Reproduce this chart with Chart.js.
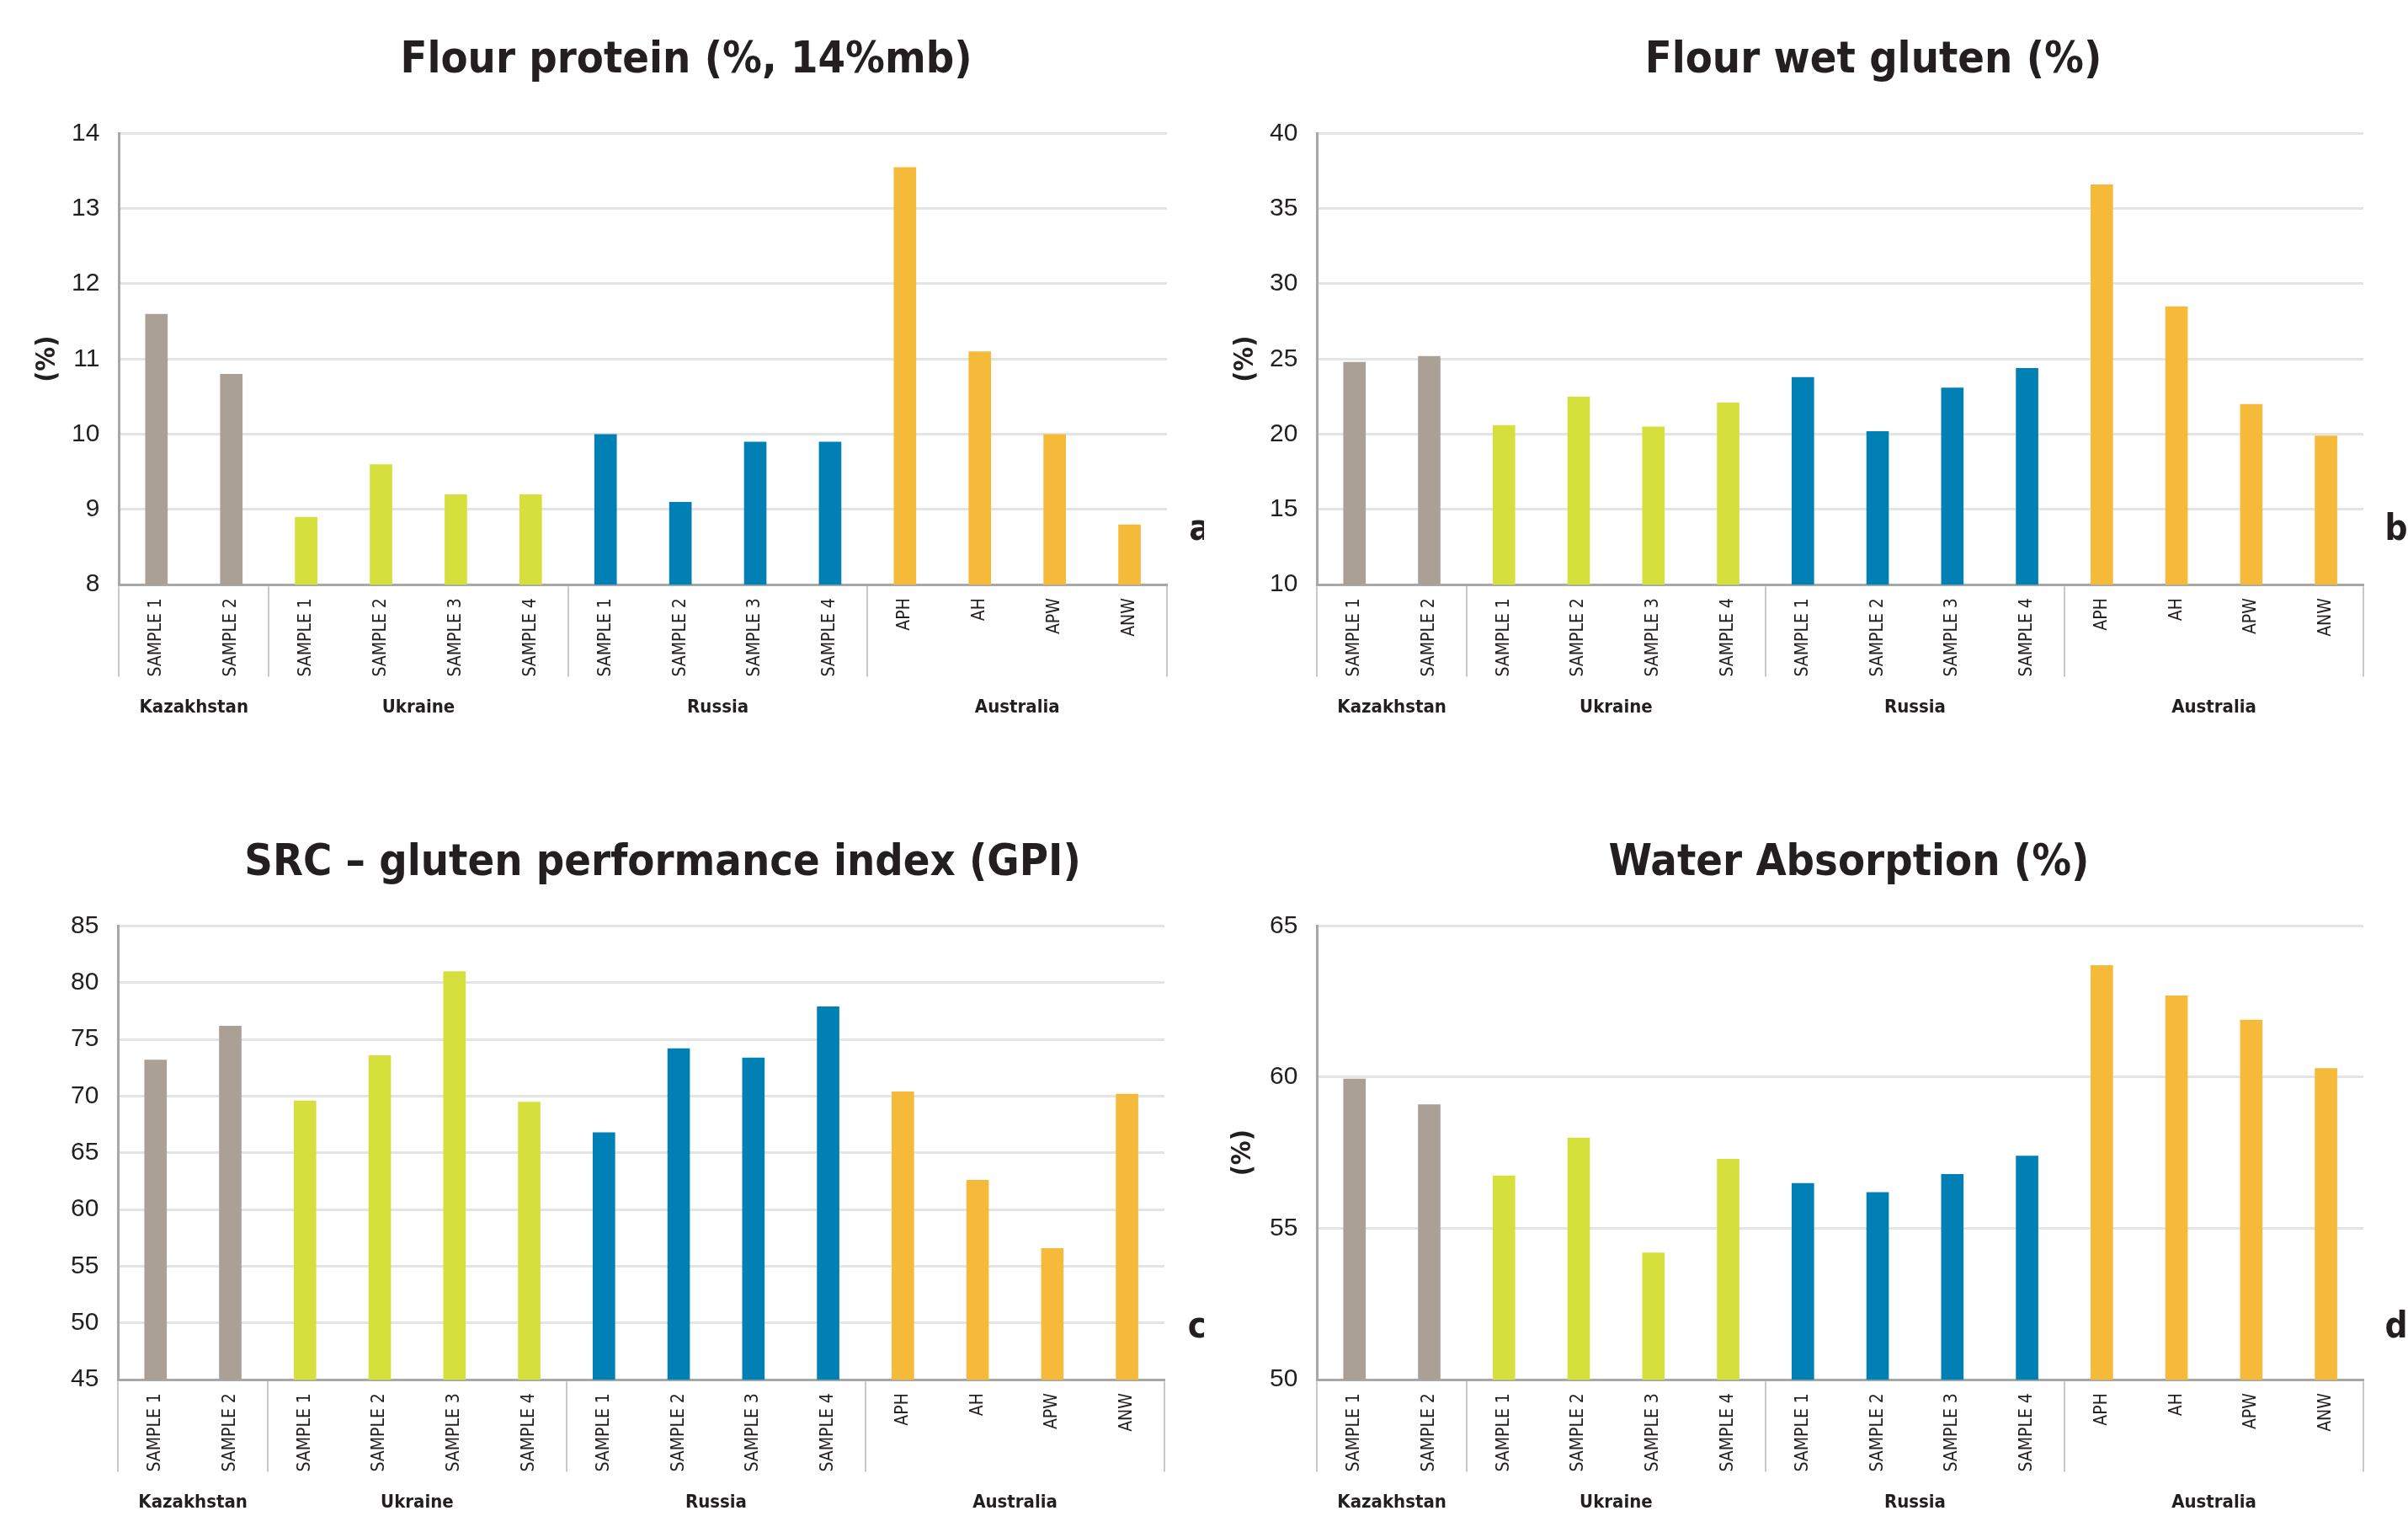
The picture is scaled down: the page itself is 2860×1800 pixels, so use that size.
<!DOCTYPE html>
<html>
<head>
<meta charset="utf-8">
<title>Flour quality by origin</title>
<script src="https://cdn.jsdelivr.net/npm/chart.js@4.4.1/dist/chart.umd.min.js"></script>
<style>
  html, body { margin: 0; padding: 0; background: #fff; overflow: hidden; }
  body { width: 2860px; height: 1800px; position: relative; }
  .panel { position: absolute; width: 1430px; height: 860px; }
</style>
</head>
<body>
<div class="panel" style="left:0;top:0"><canvas id="chartA"></canvas></div>
<div class="panel" style="left:1430px;top:0"><canvas id="chartB"></canvas></div>
<div class="panel" style="left:0;top:944px"><canvas id="chartC"></canvas></div>
<div class="panel" style="left:1430px;top:944px"><canvas id="chartD"></canvas></div>
<script>
(() => {
  "use strict";

  const categories = [
    "SAMPLE 1", "SAMPLE 2",
    "SAMPLE 1", "SAMPLE 2", "SAMPLE 3", "SAMPLE 4",
    "SAMPLE 1", "SAMPLE 2", "SAMPLE 3", "SAMPLE 4",
    "APH", "AH", "APW", "ANW",
  ];
  const groups = ["Kazakhstan", "Ukraine", "Russia", "Australia"];
  const groupSizes = [2, 4, 4, 4];
  const groupColors = ["#aaa096", "#d6e03d", "#0080b4", "#f6ba3a"];

  const chartTitles = [
    "Flour protein (%, 14%mb)",
    "Flour wet gluten (%)",
    "SRC \u2013 gluten performance index (GPI)",
    "Water Absorption (%)",
  ];
  const panelLetters = ["a", "b", "c", "d"];

  const proteinValues = [11.6, 10.8, 8.9, 9.6, 9.2, 9.2, 10.0, 9.1, 9.9, 9.9, 13.55, 11.1, 10.0, 8.8];
  const wetGlutenValues = [24.8, 25.2, 20.6, 22.5, 20.5, 22.1, 23.8, 20.2, 23.1, 24.4, 36.6, 28.5, 22.0, 19.9];
  const gpiValues = [73.2, 76.2, 69.6, 73.6, 81.0, 69.5, 66.8, 74.2, 73.4, 77.9, 70.4, 62.6, 56.6, 70.2];
  const waterAbsValues = [59.95, 59.1, 56.75, 58.0, 54.2, 57.3, 56.5, 56.2, 56.8, 57.4, 63.7, 62.7, 61.9, 60.3];

  const proteinTicks = [8, 9, 10, 11, 12, 13, 14];
  const wetGlutenTicks = [10, 15, 20, 25, 30, 35, 40];
  const gpiTicks = [45, 50, 55, 60, 65, 70, 75, 80, 85];
  const waterAbsTicks = [50, 55, 60, 65];

  const ink = "#231f20";
  const condFont = "'DejaVu Sans Condensed', 'DejaVu Sans', sans-serif";
  const numFont = "'Liberation Sans', Arial, sans-serif";

  // one colour per bar, from its country group
  const barColors = groupSizes.flatMap((n, g) => Array(n).fill(groupColors[g]));

  // group edges and centres in category-index units
  const groupEdges = [0];
  groupSizes.forEach((n) => groupEdges.push(groupEdges[groupEdges.length - 1] + n));
  const groupCentres = groupSizes.map((n, g) => groupEdges[g] + (n - 1) / 2);

  // titles in the original sit right of the canvas centre
  const titleShift = {
    id: "titleShift",
    afterInit(chart, args, opts) {
      const tb = chart.titleBlock;
      if (!tb) return;
      const draw = tb.draw.bind(tb);
      tb.draw = (area) => {
        const ctx = chart.ctx;
        ctx.save();
        ctx.translate(opts.centre - (tb.left + tb.right) / 2, 0);
        draw(area);
        ctx.restore();
      };
    },
  };

  // vertical separators between the country groups under the x axis
  const groupLines = {
    id: "groupLines",
    afterDraw(chart) {
      const x = chart.scales.x;
      const ctx = chart.ctx;
      const bottom = x.bottom - x.options.ticks.padding;
      ctx.save();
      ctx.strokeStyle = "#c9c9c9";
      ctx.lineWidth = 2;
      groupEdges.forEach((e) => {
        const px = Math.round(x.getPixelForValue(e - 0.5));
        ctx.beginPath();
        ctx.moveTo(px, x.top + 2);
        ctx.lineTo(px, bottom);
        ctx.stroke();
      });
      ctx.restore();
    },
  };

  const panelLetter = {
    id: "panelLetter",
    afterDraw(chart, args, opts) {
      const { ctx, chartArea } = chart;
      ctx.save();
      ctx.fillStyle = ink;
      ctx.font = "bold 42px " + condFont;
      ctx.textAlign = "center";
      ctx.textBaseline = "alphabetic";
      ctx.fillText(opts.text, chartArea.right + opts.dx, chartArea.bottom + opts.dy);
      ctx.restore();
    },
  };

  const panels = [
    { id: "chartA", values: proteinValues, ticks: proteinTicks, yTitle: true,
      left: 4, right: 44, yTitlePad: { top: 37, bottom: -11 },
      titlePad: { top: 41, bottom: 55 }, titleCentre: 815, letterDy: -53 },
    { id: "chartB", values: wetGlutenValues, ticks: wetGlutenTicks, yTitle: true,
      left: 4, right: 53, yTitlePad: { top: 30, bottom: -11 },
      titlePad: { top: 41, bottom: 55 }, titleCentre: 795, letterDy: -53 },
    { id: "chartC", values: gpiValues, ticks: gpiTicks, yTitle: false,
      left: 61, right: 47, yTitlePad: { top: 0, bottom: 0 },
      titlePad: { top: 50, bottom: 43 }, titleCentre: 787, letterDy: -50 },
    { id: "chartD", values: waterAbsValues, ticks: waterAbsTicks, yTitle: true,
      left: 4, right: 53, yTitlePad: { top: 27, bottom: -8 },
      titlePad: { top: 50, bottom: 43 }, titleCentre: 766, letterDy: -50 },
  ];

  panels.forEach((p, i) => {
    new Chart(document.getElementById(p.id), {
      type: "bar",
      data: {
        labels: categories,
        datasets: [
          {
            data: p.values,
            backgroundColor: barColors,
            barPercentage: 0.3,
            categoryPercentage: 1,
          },
        ],
      },
      plugins: [titleShift, groupLines, panelLetter],
      options: {
        responsive: true,
        maintainAspectRatio: false,
        animation: false,
        layout: { padding: { left: p.left, right: p.right, top: 0, bottom: 0 } },
        plugins: {
          legend: { display: false },
          tooltip: { enabled: false },
          title: {
            display: true,
            text: chartTitles[i],
            color: ink,
            font: { family: condFont, size: 52, weight: "bold", lineHeight: 1.2 },
            padding: p.titlePad,
          },
          titleShift: { centre: p.titleCentre },
          panelLetter: { text: panelLetters[i], dx: 39, dy: p.letterDy },
        },
        scales: {
          x: {
            offset: true,
            weight: 0,
            grid: { display: false, drawTicks: false },
            border: { color: "#a8a8a8", width: 3 },
            ticks: {
              autoSkip: false,
              minRotation: 90,
              maxRotation: 90,
              padding: 16,
              color: ink,
              font: { family: condFont, size: 21 },
            },
          },
          group: {
            type: "linear",
            position: "bottom",
            offset: false,
            weight: 1,
            min: -0.5,
            max: categories.length - 0.5,
            afterBuildTicks: (scale) => {
              scale.ticks = groupCentres.map((v) => ({ value: v }));
            },
            grid: { display: false, drawTicks: false },
            border: { display: false },
            ticks: {
              autoSkip: false,
              maxRotation: 0,
              padding: 7,
              color: ink,
              font: { family: condFont, size: 22, weight: "bold" },
              callback: (v, idx) => groups[idx],
            },
          },
          y: {
            min: p.ticks[0],
            max: p.ticks[p.ticks.length - 1],
            grid: { color: "#e4e4e4", lineWidth: 3, drawTicks: false },
            border: { color: "#a8a8a8", width: 3 },
            ticks: {
              stepSize: p.ticks[1] - p.ticks[0],
              padding: 23,
              color: ink,
              font: { family: numFont, size: 30 },
            },
            title: {
              display: p.yTitle,
              text: "(%)",
              color: ink,
              font: { family: condFont, size: 32, weight: "bold", lineHeight: 1 },
              padding: p.yTitlePad,
            },
          },
        },
      },
    });
  });
})();
</script>
</body>
</html>
